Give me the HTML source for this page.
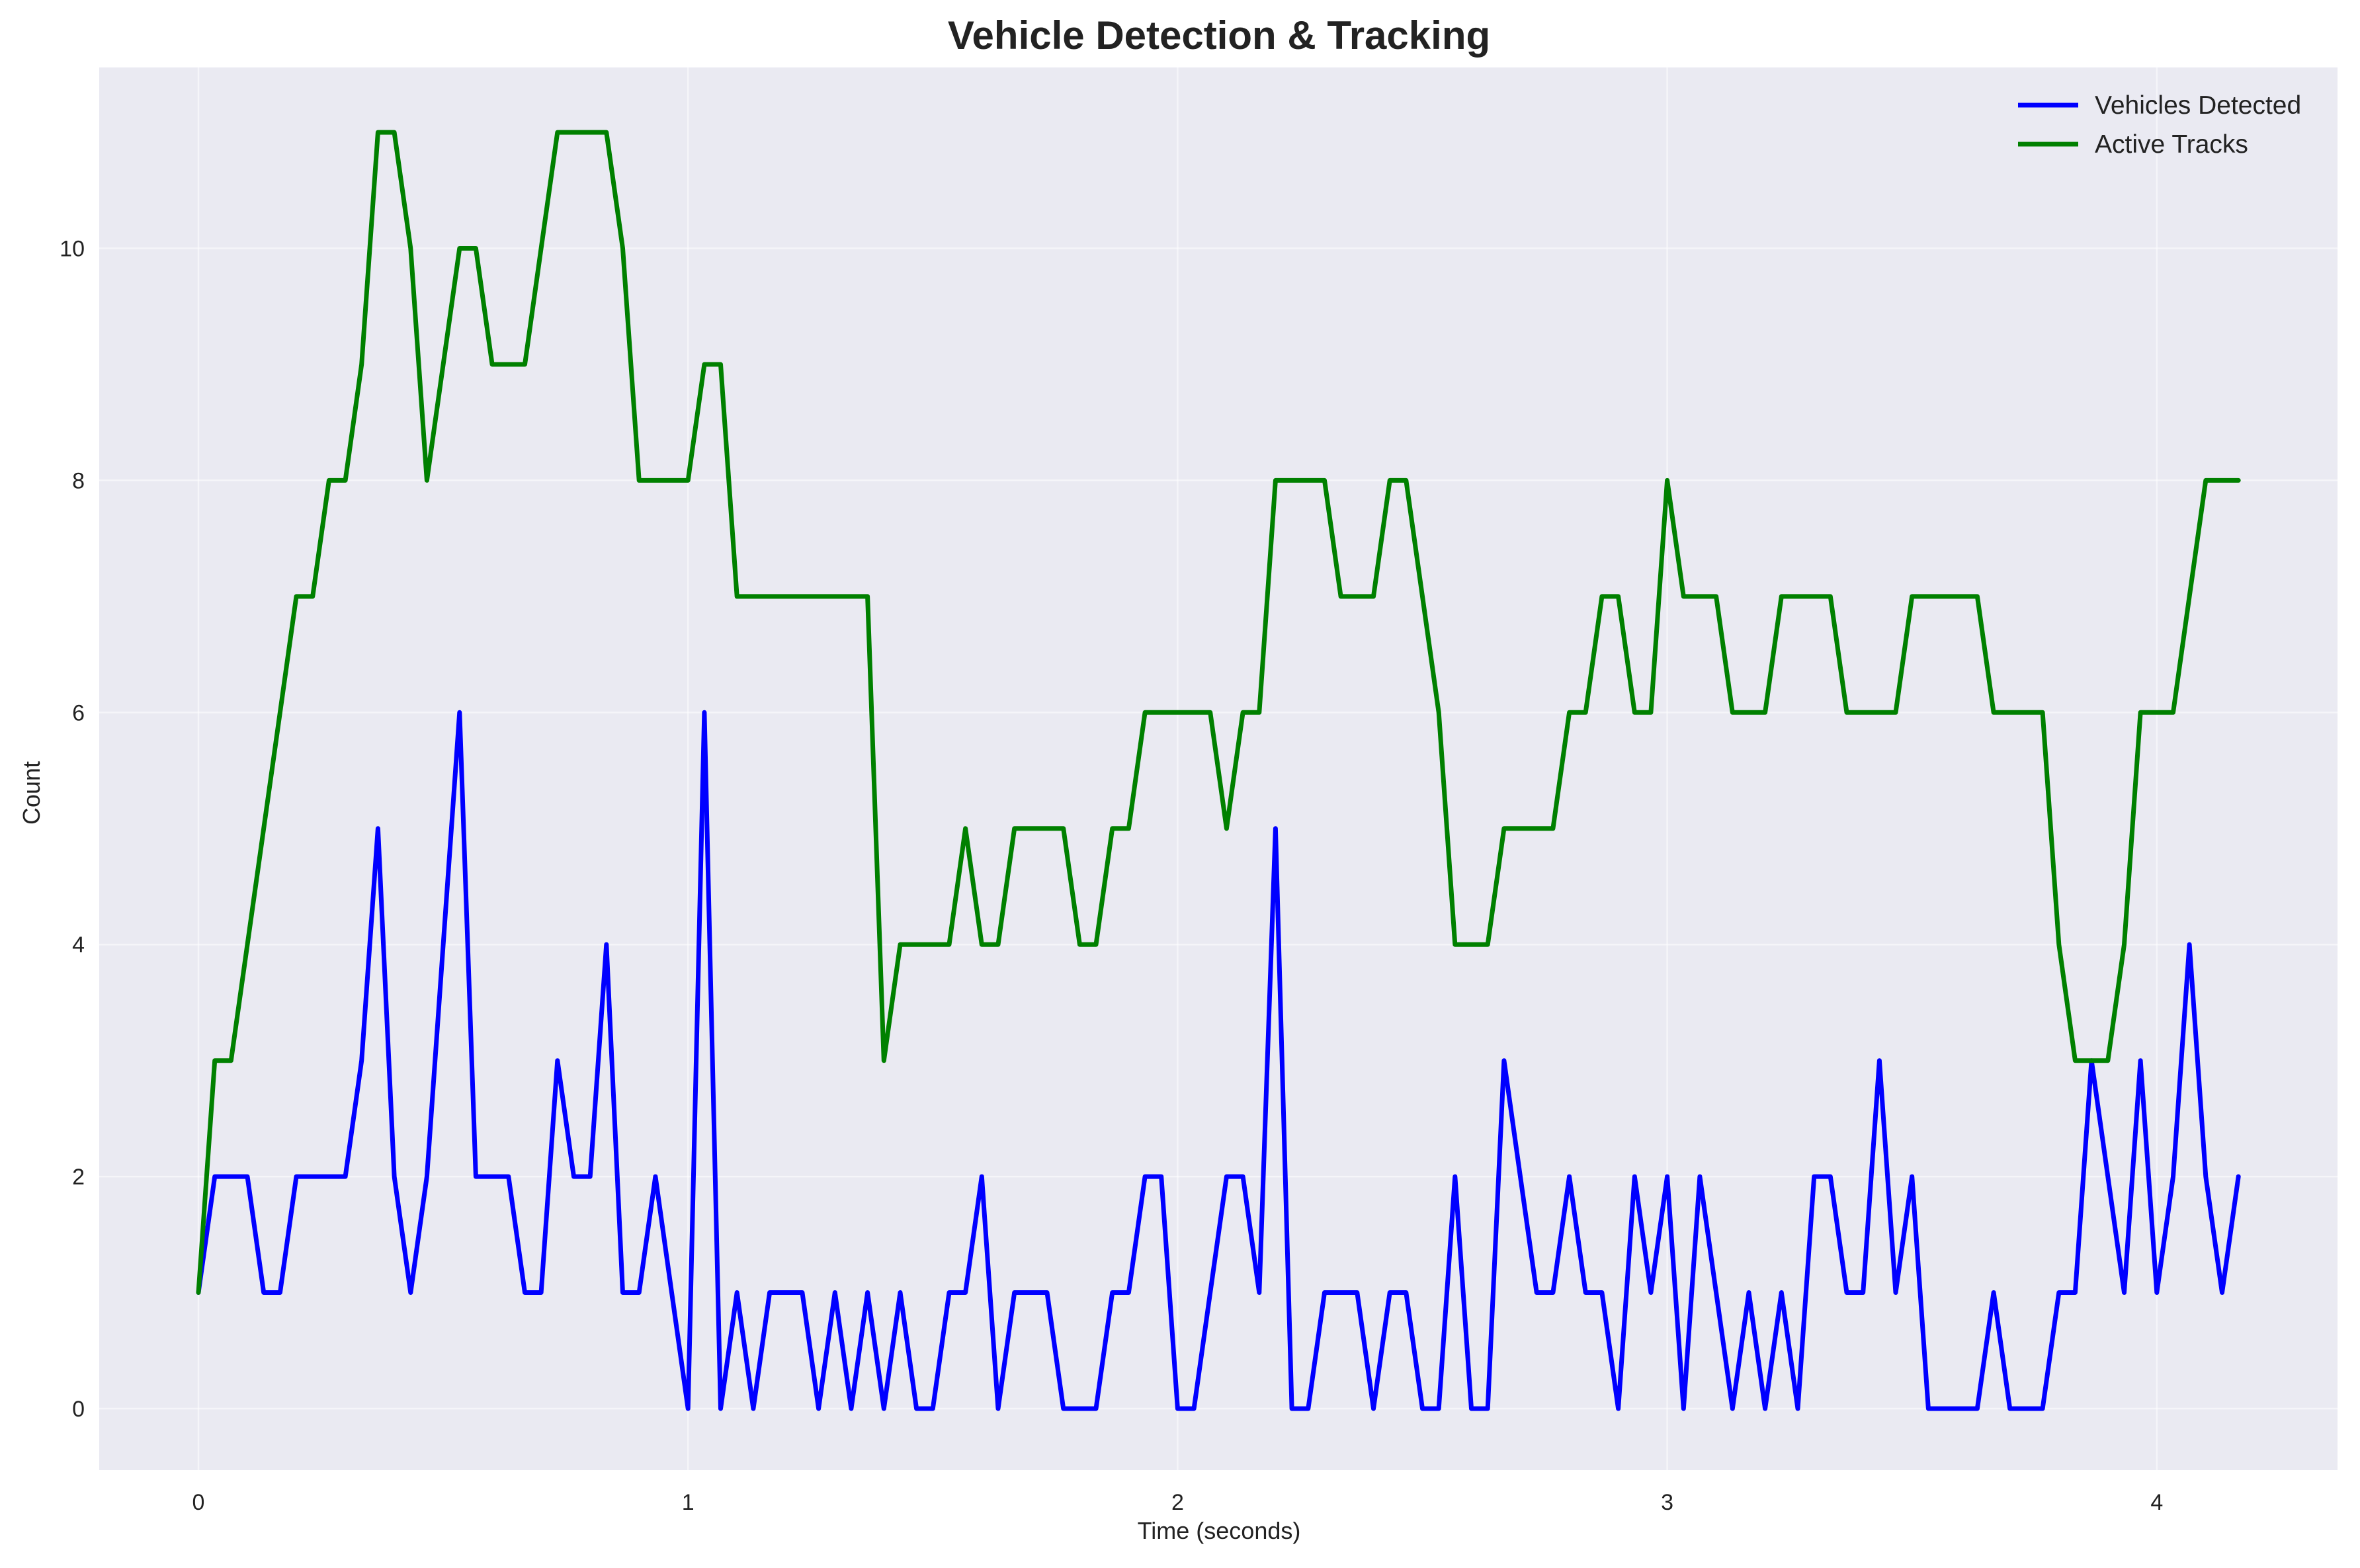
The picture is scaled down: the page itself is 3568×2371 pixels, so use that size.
<!DOCTYPE html>
<html><head><meta charset="utf-8"><style>
html,body{margin:0;padding:0;background:#fff;}
svg text{font-family:"Liberation Sans",sans-serif;fill:#222;}
</style></head><body>
<svg id="chart" width="3568" height="2366" viewBox="0 0 3568 2366" xmlns="http://www.w3.org/2000/svg">
<rect x="0" y="0" width="3568" height="2366" fill="#ffffff"/>
<rect x="150" y="102" width="3384" height="2121" fill="#eaeaf2"/>
<g id="grid"></g>
<g id="ticks"></g>
<g id="series"></g>
<text x="1843" y="74" text-anchor="middle" font-size="60" font-weight="bold">Vehicle Detection &amp; Tracking</text>
<text x="1843" y="2327" text-anchor="middle" font-size="36">Time (seconds)</text>
<text x="0" y="0" transform="translate(60,1199) rotate(-90)" text-anchor="middle" font-size="36">Count</text>
<g>
<line x1="3051" y1="159" x2="3142" y2="159" stroke="#0000ff" stroke-width="7"/>
<text x="3167" y="172" font-size="39">Vehicles Detected</text>
<line x1="3051" y1="218" x2="3142" y2="218" stroke="#008000" stroke-width="7"/>
<text x="3167" y="231" font-size="39">Active Tracks</text>
</g>
</svg>
<script>
const vehicles=[1,2,2,2,1,1,2,2,2,2,3,5,2,1,2,4,6,2,2,2,1,1,3,2,2,4,1,1,2,1,0,6,0,1,0,1,1,1,0,1,0,1,0,1,0,0,1,1,2,0,1,1,1,0,0,0,1,1,2,2,0,0,1,2,2,1,5,0,0,1,1,1,0,1,1,0,0,2,0,0,3,2,1,1,2,1,1,0,2,1,2,0,2,1,0,1,0,1,0,2,2,1,1,3,1,2,0,0,0,0,1,0,0,0,1,1,3,2,1,3,1,2,4,2,1,2];
const tracks=[1,3,3,4,5,6,7,7,8,8,9,11,11,10,8,9,10,10,9,9,9,10,11,11,11,11,10,8,8,8,8,9,9,7,7,7,7,7,7,7,7,7,3,4,4,4,4,5,4,4,5,5,5,5,4,4,5,5,6,6,6,6,6,5,6,6,8,8,8,8,7,7,7,8,8,7,6,4,4,4,5,5,5,5,6,6,7,7,6,6,8,7,7,7,6,6,6,7,7,7,7,6,6,6,6,7,7,7,7,7,6,6,6,6,4,3,3,3,4,6,6,6,7,8,8,8];
const dt=1/30;
const xTicks=[0,1,2,3,4];
const yTicks=[0,2,4,6,8,10];
const NS="http://www.w3.org/2000/svg";
function xs(v){return 300+v*740.2;}
function ys(v){return 2130-v*175.45;}
const grid=document.getElementById('grid'),ticks=document.getElementById('ticks'),series=document.getElementById('series');
xTicks.forEach(t=>{
 const l=document.createElementNS(NS,'line');
 l.setAttribute('x1',xs(t));l.setAttribute('x2',xs(t));l.setAttribute('y1',102);l.setAttribute('y2',2223);
 l.setAttribute('stroke','#ffffff');l.setAttribute('stroke-width','2.5');l.setAttribute('stroke-opacity','0.5');
 
 
 grid.appendChild(l);
 const tx=document.createElementNS(NS,'text');
 tx.setAttribute('x',xs(t));tx.setAttribute('y',2283);tx.setAttribute('text-anchor','middle');tx.setAttribute('font-size','34');
 tx.textContent=t;
 
 
 ticks.appendChild(tx);
});
yTicks.forEach(t=>{
 const l=document.createElementNS(NS,'line');
 l.setAttribute('x1',150);l.setAttribute('x2',3534);l.setAttribute('y1',ys(t));l.setAttribute('y2',ys(t));
 l.setAttribute('stroke','#ffffff');l.setAttribute('stroke-width','2.5');l.setAttribute('stroke-opacity','0.5');
 
 
 grid.appendChild(l);
 const tx=document.createElementNS(NS,'text');
 tx.setAttribute('x',128);tx.setAttribute('y',ys(t)+12);tx.setAttribute('text-anchor','end');tx.setAttribute('font-size','34');
 tx.textContent=t;
 
 
 ticks.appendChild(tx);
});
function drawLine(arr,color,name){
 const p=document.createElementNS(NS,'polyline');
 p.setAttribute('points',arr.map((v,i)=>xs(i*dt).toFixed(1)+','+ys(v).toFixed(1)).join(' '));
 p.setAttribute('fill','none');p.setAttribute('stroke',color);p.setAttribute('stroke-width','7');
 p.setAttribute('stroke-linejoin','round');p.setAttribute('stroke-linecap','round');
 
 
 series.appendChild(p);
}
drawLine(vehicles,'#0000ff','vehicles-detected-line');
drawLine(tracks,'#008000','active-tracks-line');
</script>
</body></html>
